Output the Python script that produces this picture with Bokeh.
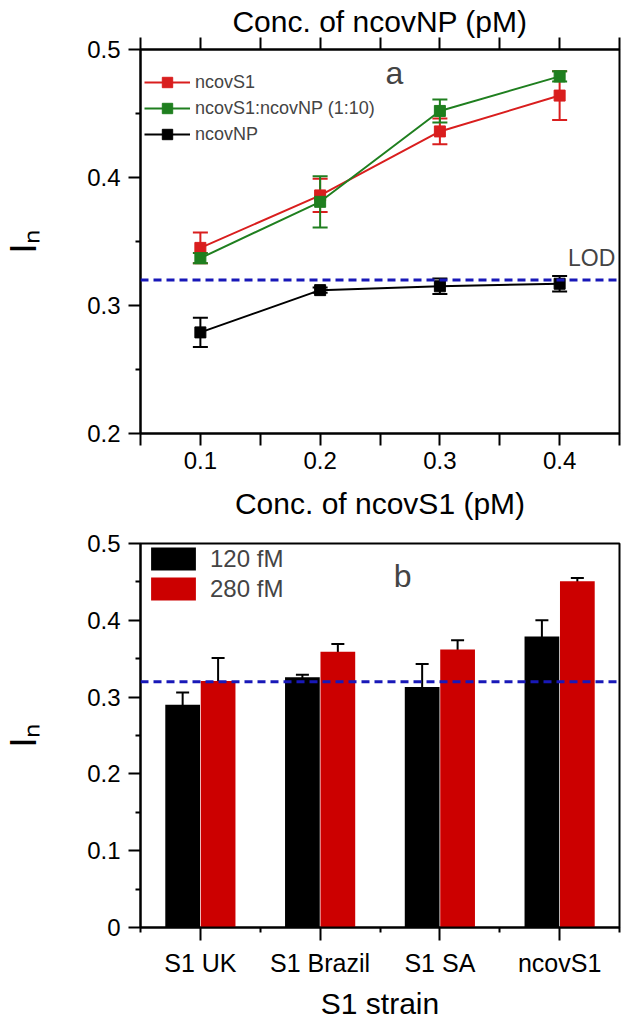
import numpy as np
from bokeh.plotting import figure
from bokeh.models import (ColumnDataSource, Whisker, TeeHead, Span, Label, Legend,
                          LegendItem, LinearAxis, FixedTicker, Range1d)
from bokeh.layouts import column
from bokeh.embed import file_html
from bokeh.resources import INLINE

# ---------------- data: panel a ----------------
conc = [0.1, 0.2, 0.3, 0.4]
s1_mean = [0.345, 0.386, 0.436, 0.464]
s1_err = [0.012, 0.013, 0.010, 0.019]
mix_mean = [0.337, 0.381, 0.452, 0.479]
mix_err = [0.004, 0.020, 0.009, 0.004]
np_mean = [0.279, 0.312, 0.315, 0.317]
np_err = [0.0115, 0.002, 0.006, 0.006]
lod = 0.32
a_xticks = [0.1, 0.2, 0.3, 0.4]
a_xminor = [0.05, 0.15, 0.25, 0.35, 0.45]
a_top_ticks = [0.05, 0.1, 0.15, 0.2, 0.25, 0.3, 0.35, 0.4, 0.45]
a_yticks = [0.2, 0.3, 0.4, 0.5]
a_yminor = [0.25, 0.35, 0.45]

# ---------------- data: panel b ----------------
strains = ["S1 UK", "S1 Brazil", "S1 SA", "ncovS1"]
low_mean = [0.290, 0.326, 0.313, 0.379]
low_err = [0.016, 0.003, 0.030, 0.021]
high_mean = [0.321, 0.359, 0.362, 0.451]
high_err = [0.030, 0.010, 0.012, 0.004]
b_yticks = [0.0, 0.1, 0.2, 0.3, 0.4, 0.5]
b_yminor = [0.05, 0.15, 0.25, 0.35, 0.45]

FONT = "Liberation Sans"
RED = "#D91E1E"
GREEN = "#1F7F1F"
BLACK = "#000000"
BAR_RED = "#CC0000"
BLUE = "#1818B8"
W = 621
YLABEL = "I\u2099"


def style_axis(ax, major_out=12, minor_out=5):
    ax.axis_line_width = 2
    ax.axis_line_color = "black"
    ax.major_tick_line_color = "black"
    ax.minor_tick_line_color = "black"
    ax.major_tick_line_width = 2
    ax.minor_tick_line_width = 2
    ax.major_tick_in = 0
    ax.major_tick_out = major_out
    ax.minor_tick_in = 0
    ax.minor_tick_out = minor_out
    ax.major_label_text_font = FONT
    ax.major_label_text_font_size = "24px"
    ax.major_label_text_color = "black"
    ax.major_label_standoff = 6
    ax.axis_label_text_font = FONT
    ax.axis_label_text_font_size = "30px"
    ax.axis_label_text_font_style = "normal"
    ax.axis_label_text_color = "black"


def style_ylabel(ax):
    ax.axis_label = YLABEL
    ax.axis_label_text_font_size = "36px"
    ax.axis_label_standoff = 40


# ================= panel a =================
p1 = figure(width=W, height=529, x_range=Range1d(0.05, 0.45), y_range=Range1d(0.2, 0.5),
            output_backend="svg", toolbar_location=None,
            min_border_left=137, min_border_right=2, min_border_top=49, min_border_bottom=96)
p1.title.visible = False
p1.grid.visible = False
p1.outline_line_color = "black"
p1.outline_line_width = 2
p1.background_fill_color = "white"
p1.border_fill_color = "white"

xa = p1.xaxis[0]
xa.ticker = FixedTicker(ticks=a_xticks, minor_ticks=a_xminor)
style_axis(xa, 12, 12)
xa.axis_label = "Conc. of ncovS1 (pM)"
xa.axis_label_standoff = 15

ya = p1.yaxis[0]
ya.ticker = FixedTicker(ticks=a_yticks, minor_ticks=a_yminor)
style_axis(ya, 12, 5)
ya.major_label_standoff = 8
style_ylabel(ya)

top_ax = LinearAxis(ticker=FixedTicker(ticks=a_top_ticks),
                    axis_label="Conc. of ncovNP (pM)")
style_axis(top_ax, 12, 0)
top_ax.major_label_text_font_size = "2px"
top_ax.major_label_text_color = "white"
top_ax.major_label_text_alpha = 0.0
top_ax.major_label_standoff = 0
top_ax.axis_label_standoff = 0
p1.add_layout(top_ax, "above")

p1.add_layout(Span(location=lod, dimension="width", line_color=BLUE,
                   line_dash="8 5", line_width=3))

items = []
for name, mean, err, col in [("ncovS1", s1_mean, s1_err, RED),
                             ("ncovS1:ncovNP (1:10)", mix_mean, mix_err, GREEN),
                             ("ncovNP", np_mean, np_err, BLACK)]:
    src = ColumnDataSource(dict(x=conc, y=mean,
                                lo=[m - e for m, e in zip(mean, err)],
                                hi=[m + e for m, e in zip(mean, err)]))
    lr = p1.line("x", "y", source=src, line_color=col, line_width=2)
    sr = p1.scatter("x", "y", source=src, marker="square", size=11,
                    fill_color=col, line_color=col)
    wk = Whisker(source=src, base="x", upper="hi", lower="lo", line_color=col, line_width=2,
                 upper_head=TeeHead(size=15, line_color=col, line_width=2),
                 lower_head=TeeHead(size=15, line_color=col, line_width=2))
    p1.add_layout(wk)
    items.append(LegendItem(label=name, renderers=[lr, sr]))

leg1 = Legend(items=items, location=(4, 286), glyph_width=46, glyph_height=26,
              spacing=-1, padding=0, label_standoff=5,
              label_text_font=FONT, label_text_font_size="18px",
              border_line_alpha=0, background_fill_alpha=0)
p1.add_layout(leg1)

p1.add_layout(Label(x=0.262, y=0.482, text="a", text_font=FONT, text_font_size="32px",
                    text_align="center", text_baseline="alphabetic"))
p1.add_layout(Label(x=0.407, y=0.337, text="LOD", text_font=FONT, text_font_size="23px",
                    text_align="left", text_baseline="alphabetic"))

# ================= panel b =================
idx = np.arange(1, len(strains) + 1)
bw = 0.29
p2 = figure(width=W, height=493, x_range=Range1d(0.5, 4.5), y_range=Range1d(0.0, 0.5),
            output_backend="svg", toolbar_location=None,
            min_border_left=137, min_border_right=2, min_border_top=14, min_border_bottom=92)
p2.title.visible = False
p2.grid.visible = False
p2.outline_line_color = "black"
p2.outline_line_width = 2
p2.background_fill_color = "white"
p2.border_fill_color = "white"

xb = p2.xaxis[0]
xb.ticker = FixedTicker(ticks=list(idx), minor_ticks=list(idx - 0.5) + [idx[-1] + 0.5])
style_axis(xb, 13, 5)
xb.major_label_overrides = {int(i): s for i, s in zip(idx, strains)}
xb.major_label_text_font_size = "25px"
xb.axis_label = "S1 strain"
xb.major_label_standoff = 8
xb.axis_label_standoff = 7

yb = p2.yaxis[0]
yb.ticker = FixedTicker(ticks=b_yticks, minor_ticks=b_yminor)
style_axis(yb, 12, 5)
yb.major_label_standoff = 8
style_ylabel(yb)

src_lo = ColumnDataSource(dict(x=idx - bw / 2 - 0.003, top=low_mean,
                               lo=[m - e for m, e in zip(low_mean, low_err)],
                               hi=[m + e for m, e in zip(low_mean, low_err)]))
src_hi = ColumnDataSource(dict(x=idx + bw / 2 + 0.003, top=high_mean,
                               lo=[m - e for m, e in zip(high_mean, high_err)],
                               hi=[m + e for m, e in zip(high_mean, high_err)]))
b1 = p2.vbar(x="x", top="top", width=bw, bottom=0, source=src_lo,
             fill_color="black", line_color=None)
b2 = p2.vbar(x="x", top="top", width=bw, bottom=0, source=src_hi,
             fill_color=BAR_RED, line_color=None)
for s in (src_lo, src_hi):
    p2.add_layout(Whisker(source=s, base="x", upper="hi", lower="lo", line_color="black",
                          line_width=2,
                          upper_head=TeeHead(size=13, line_color="black", line_width=2),
                          lower_head=TeeHead(size=13, line_color="black", line_width=2)))

p2.add_layout(Span(location=lod, dimension="width", line_color=BLUE,
                   line_dash="8 5", line_width=3))

leg2 = Legend(items=[LegendItem(label="120 fM", renderers=[b1]),
                     LegendItem(label="280 fM", renderers=[b2])],
              location=(5, 324), glyph_width=56, glyph_height=29, spacing=1, padding=0,
              label_standoff=9, label_text_font=FONT, label_text_font_size="24px",
              border_line_alpha=0, background_fill_alpha=0)
p2.add_layout(leg2)

p2.add_layout(Label(x=2.69, y=0.458, text="b", text_font=FONT, text_font_size="32px",
                    text_align="center", text_baseline="alphabetic"))

layout = column(p1, p2, spacing=0)
open("out.html", "w").write(file_html(layout, INLINE))
